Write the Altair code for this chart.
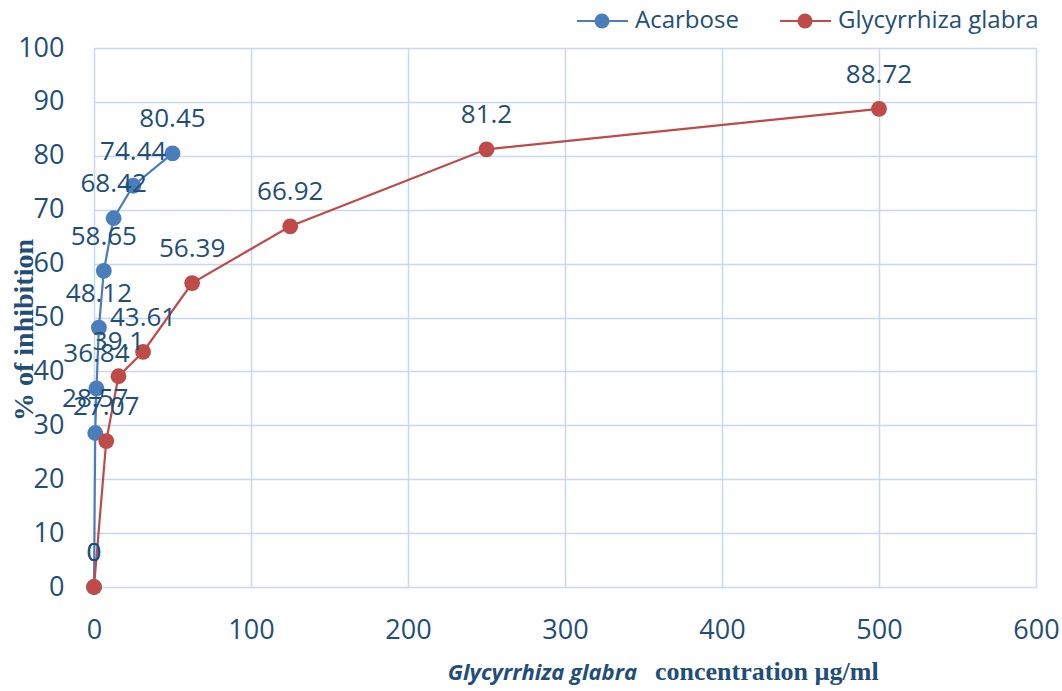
import altair as alt
import pandas as pd

# Inhibition (%) versus concentration (µg/ml) for each treatment
acarbose_conc = [0, 0.78, 1.56, 3.125, 6.25, 12.5, 25, 50]
acarbose_inhib = [0, 28.57, 36.84, 48.12, 58.65, 68.42, 74.44, 80.45]
glabra_conc = [0, 7.8, 15.6, 31.25, 62.5, 125, 250, 500]
glabra_inhib = [0, 27.07, 39.1, 43.61, 56.39, 66.92, 81.2, 88.72]

series_names = ["Acarbose", "Glycyrrhiza glabra"]
series_colors = ["#4A7EBB", "#BE4B48"]

x_ticks = [0, 100, 200, 300, 400, 500, 600]
y_ticks = [0, 10, 20, 30, 40, 50, 60, 70, 80, 90, 100]

TEXT_COLOR = "#1F4E79"
GRID_COLOR = "#C8D8EF"
SANS = "Open Sans"
SERIF = "Liberation Serif"

rows = []
for name, xs, ys in [
    (series_names[0], acarbose_conc, acarbose_inhib),
    (series_names[1], glabra_conc, glabra_inhib),
]:
    for c, v in zip(xs, ys):
        rows.append({"series": name, "conc": c, "inhib": v, "label": f"{v:g}"})
df = pd.DataFrame(rows)

x_enc = alt.X(
    "conc:Q",
    scale=alt.Scale(domain=[0, 600], nice=False, zero=False),
    axis=alt.Axis(
        values=x_ticks, title=None, grid=True, gridColor=GRID_COLOR, gridWidth=1.5,
        domain=False, ticks=False, labelFont=SANS, labelFontSize=27,
        labelColor=TEXT_COLOR, labelPadding=30, labelFlush=False,
    ),
)
y_enc = alt.Y(
    "inhib:Q",
    scale=alt.Scale(domain=[0, 100], nice=False),
    axis=alt.Axis(
        values=y_ticks, title=None, grid=True, gridColor=GRID_COLOR, gridWidth=1.5,
        domain=False, ticks=False, labelFont=SANS, labelFontSize=27,
        labelColor=TEXT_COLOR, labelPadding=30,
    ),
)
color_enc = alt.Color(
    "series:N",
    scale=alt.Scale(domain=series_names, range=series_colors),
    legend=None,
)

base = alt.Chart(df)
lines = base.mark_line(strokeWidth=2.2).encode(x=x_enc, y=y_enc, color=color_enc, detail="series:N")
points = base.mark_point(filled=True, size=250, opacity=1).encode(x=x_enc, y=y_enc, color=color_enc)
labels = base.mark_text(dy=-34, font=SANS, fontSize=26, color=TEXT_COLOR).encode(
    x=x_enc, y=y_enc, text="label:N"
)

# Axis titles
y_title = alt.Chart(pd.DataFrame({"t": ["% of inhibition"]})).mark_text(
    angle=270, font=SERIF, fontWeight="bold", fontSize=28, color=TEXT_COLOR,
    align="center", baseline="middle",
).encode(x=alt.value(-69), y=alt.value(282), text="t:N")

x_title_species = alt.Chart(pd.DataFrame({"t": ["Glycyrrhiza glabra"]})).mark_text(
    font=SANS, fontStyle="italic", fontWeight="bold", fontSize=22, color=TEXT_COLOR,
    align="right", baseline="alphabetic",
).encode(x=alt.value(543), y=alt.value(632), text="t:N")

x_title_units = alt.Chart(pd.DataFrame({"t": ["concentration µg/ml"]})).mark_text(
    font=SERIF, fontWeight="bold", fontSize=26, color=TEXT_COLOR,
    align="left", baseline="alphabetic",
).encode(x=alt.value(561), y=alt.value(632), text="t:N")

# Legend entries: short line with a marker, followed by the series name
legend_layers = []
for name, color, x0 in zip(series_names, series_colors, [483, 686]):
    ld = alt.Chart(pd.DataFrame({"name": [name]}))
    legend_layers.append(
        ld.mark_rule(strokeWidth=2.2, color=color).encode(
            x=alt.value(x0), x2=alt.value(x0 + 51), y=alt.value(-27)
        )
    )
    legend_layers.append(
        ld.mark_point(filled=True, size=225, opacity=1, color=color).encode(
            x=alt.value(x0 + 25), y=alt.value(-27)
        )
    )
    legend_layers.append(
        ld.mark_text(font=SANS, fontSize=24, color=TEXT_COLOR, align="left", baseline="middle").encode(
            x=alt.value(x0 + 58), y=alt.value(-27), text="name:N"
        )
    )

chart = alt.layer(
    lines, points, labels, y_title, x_title_species, x_title_units, *legend_layers
).properties(
    width=942,
    height=539,
    autosize=alt.AutoSizeParams(type="none"),
    padding={"left": 94, "top": 48, "right": 26, "bottom": 104},
    background="white",
).configure_view(stroke=None)

chart.save("out.html", embed_options={"renderer": "svg", "actions": False})
